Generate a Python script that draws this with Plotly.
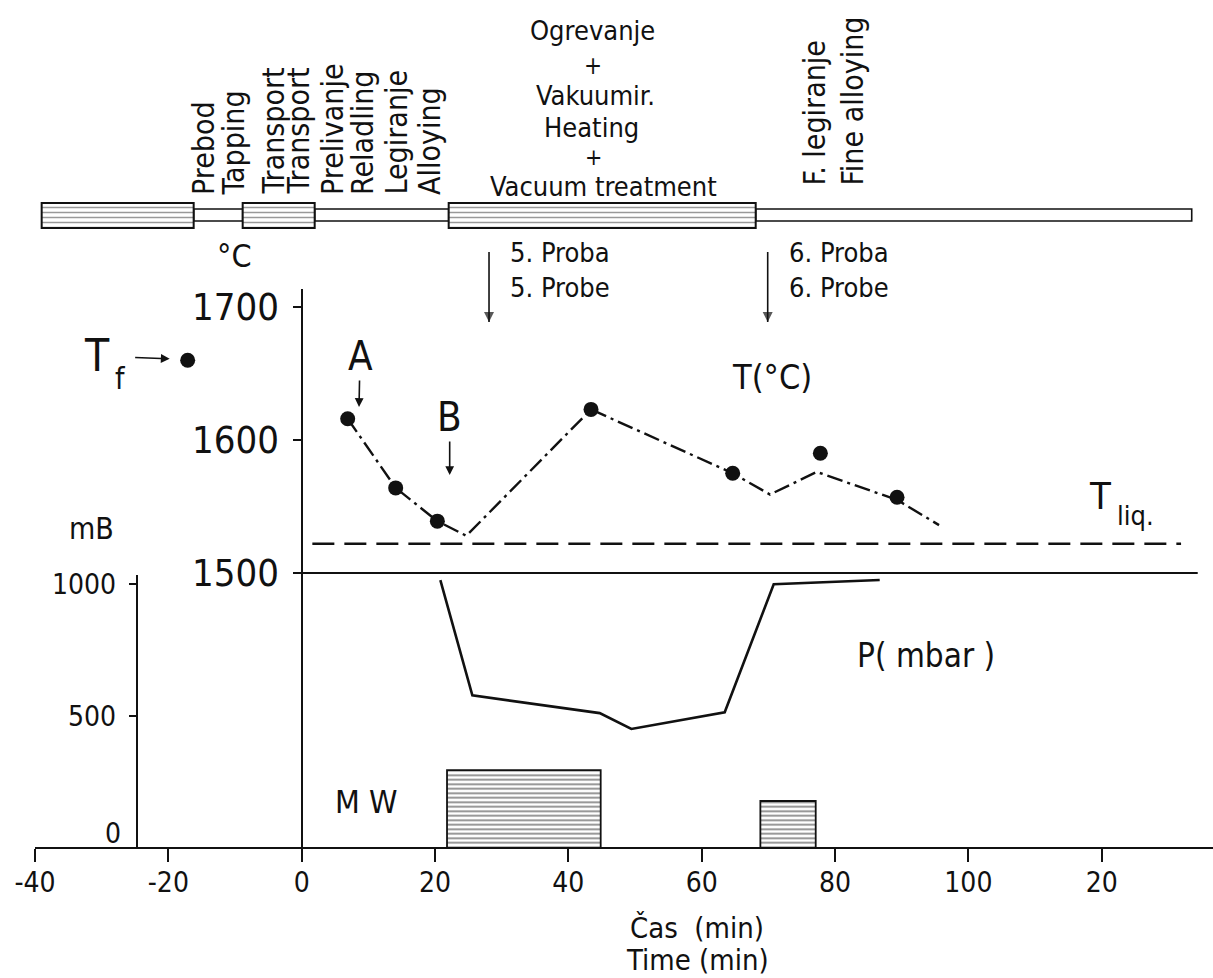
import plotly.graph_objects as go

# ---------------- data ----------------
# measured melt temperatures (time in min, temperature in °C)
sample_time = [6.9, 14.1, 20.35, 43.4, 64.65, 77.8, 89.3]
sample_temp = [1616, 1564, 1539, 1623, 1575, 1590, 1557]

# tapping temperature T_f
tf_time = [-17.1]
tf_temp = [1660]

# temperature trend line (dash-dot)
trend_time = [6.9, 14.1, 20.35, 24.7, 43.4, 64.65, 70.25, 77.25, 89.3, 95.6]
trend_temp = [1616, 1564, 1539, 1528, 1623, 1575, 1559, 1576, 1555, 1536]

# liquidus temperature
tliq_time = [1.6, 131.9]
tliq_temp = [1522, 1522]

# 1500 °C base line
base_time = [0, 134.4]
base_temp = [1500, 1500]

# vessel pressure (mbar)
pressure_time = [20.8, 25.6, 44.7, 49.45, 63.45, 70.8, 86.7]
pressure_mbar = [1015, 578, 511, 451, 514, 999, 1015]

# electric heating blocks (MW, drawn on the pressure scale)
mw_start = [21.8, 68.8]
mw_end = [44.85, 77.1]
mw_level = [295, 178]

# process route: phase boundaries and whether the phase is an active step
phase_edges = [-39.0, -16.2, -8.85, 1.95, 22.05, 68.1, 133.5]
phase_active = [True, False, True, False, True, False]

# sampling instants
probe_time = [28.1, 69.9]
probe_label = ["5. Proba<br>5. Probe", "6. Proba<br>6. Probe"]

x_tickvals = [-40, -20, 0, 20, 40, 60, 80, 100, 120]
x_ticktext = ["-40", "-20", "0", "20", "40", "60", "80", "100", "20"]
temp_ticks = [1500, 1600, 1700]
p_ticks = [500, 1000]

# ---------------- layout geometry ----------------
W, H = 1213, 978
FONT = "DejaVu Sans Condensed, Liberation Sans Narrow, DejaVu Sans, sans-serif"
INK = "#111111"


def fx(px):
    return px / W


def fy(py):
    return 1 - py / H


X_LEFT_PX = 35.0          # position of -40 min
PX_PER_MIN = 6.667
T_MAX = -40 + (W - X_LEFT_PX) / PX_PER_MIN
AXIS_Y_PX = 848.0

T_REF_PX, PX_PER_DEG = 573.0, 1.33
T_TOP_PX = 289.0
PROBE_TOP_PX = 240.0


def temp_at(py):
    return 1500 + (T_REF_PX - py) / PX_PER_DEG


t_lo = temp_at(AXIS_Y_PX)
t_hi = temp_at(T_TOP_PX)

PX_PER_MBAR = 0.264
P_TOP_PX = 575.0
p_hi = (AXIS_Y_PX - P_TOP_PX) / PX_PER_MBAR

ZERO_X = fx(X_LEFT_PX + 40 * PX_PER_MIN)
P_AXIS_X = fx(136.7)

fig = go.Figure()

# process route bar (top)
for i, active in enumerate(phase_active):
    if active:
        continue
    a, b = phase_edges[i], phase_edges[i + 1]
    fig.add_trace(go.Bar(
        orientation="h", y=[25], x=[b - a], base=[a], width=[12],
        marker=dict(color="white", line=dict(color=INK, width=1.6)),
        xaxis="x", yaxis="y3", showlegend=False, hoverinfo="skip"))
for i, active in enumerate(phase_active):
    if not active:
        continue
    a, b = phase_edges[i], phase_edges[i + 1]
    fig.add_trace(go.Bar(
        orientation="h", y=[24.5], x=[b - a], base=[a], width=[25],
        marker=dict(color="white", line=dict(color=INK, width=2),
                    pattern=dict(shape="-", fgcolor="#333333", bgcolor="white",
                                 size=5, solidity=0.3)),
        xaxis="x", yaxis="y3", showlegend=False, hoverinfo="skip"))

# MW heating blocks
fig.add_trace(go.Bar(
    x=[(a + b) / 2 for a, b in zip(mw_start, mw_end)],
    y=mw_level, base=0,
    width=[b - a for a, b in zip(mw_start, mw_end)],
    marker=dict(color="white", line=dict(color=INK, width=1.8),
                pattern=dict(shape="-", fgcolor=INK, bgcolor="white",
                             size=4.5, solidity=0.4)),
    xaxis="x", yaxis="y2", showlegend=False, hoverinfo="skip"))

# pressure
fig.add_trace(go.Scatter(
    x=pressure_time, y=pressure_mbar, mode="lines",
    line=dict(color=INK, width=2.6), xaxis="x", yaxis="y2",
    showlegend=False, hoverinfo="skip"))

# 1500 base line and liquidus
fig.add_trace(go.Scatter(
    x=base_time, y=base_temp, mode="lines",
    line=dict(color=INK, width=2), xaxis="x", yaxis="y",
    showlegend=False, hoverinfo="skip"))
fig.add_trace(go.Scatter(
    x=tliq_time, y=tliq_temp, mode="lines",
    line=dict(color=INK, width=2.6, dash="22px,10px"), xaxis="x", yaxis="y",
    showlegend=False, hoverinfo="skip"))

# temperature trend and samples
fig.add_trace(go.Scatter(
    x=trend_time, y=trend_temp, mode="lines",
    line=dict(color=INK, width=2.4, dash="16px,5px,3px,5px"),
    xaxis="x", yaxis="y", showlegend=False, hoverinfo="skip"))
fig.add_trace(go.Scatter(
    x=sample_time + tf_time, y=sample_temp + tf_temp, mode="markers",
    marker=dict(color=INK, size=15), xaxis="x", yaxis="y",
    cliponaxis=False, showlegend=False, hoverinfo="skip"))

# sampling arrows (on a taller copy of the temperature scale)
for t in probe_time:
    fig.add_trace(go.Scatter(
        x=[t, t], y=[temp_at(252), temp_at(322)], mode="lines+markers",
        line=dict(color=INK, width=1.6),
        marker=dict(symbol="arrow-down", size=[0, 10], color=INK,
                    line=dict(width=0)),
        xaxis="x", yaxis="y6", cliponaxis=False, showlegend=False,
        hoverinfo="skip"))

tick_font = dict(family=FONT, size=28, color=INK)

fig.update_layout(
    width=W, height=H, autosize=False,
    margin=dict(l=0, r=0, t=0, b=0, pad=0, autoexpand=False),
    paper_bgcolor="white", plot_bgcolor="rgba(0,0,0,0)",
    barmode="overlay", font=dict(family=FONT, color=INK),
    xaxis=dict(
        domain=[fx(X_LEFT_PX), 1], range=[-40, T_MAX],
        anchor="free", position=fy(AXIS_Y_PX), automargin=False,
        showline=True, linecolor=INK, linewidth=2,
        ticks="outside", ticklen=13, tickwidth=2, tickcolor=INK,
        tickvals=x_tickvals, ticktext=x_ticktext, tickfont=tick_font,
        ticklabelstandoff=-4, showgrid=False, zeroline=False),
    yaxis=dict(
        domain=[fy(AXIS_Y_PX), fy(T_TOP_PX)], range=[t_lo, t_hi],
        anchor="free", position=ZERO_X, automargin=False,
        showline=True, linecolor=INK, linewidth=2,
        ticks="outside", ticklen=8, tickwidth=2, tickcolor=INK,
        tickvals=temp_ticks, tickfont=dict(family=FONT, size=38, color=INK),
        ticklabelstandoff=6, showgrid=False, zeroline=False),
    yaxis4=dict(
        overlaying="y", range=[t_lo, t_hi], anchor="free", position=ZERO_X,
        automargin=False,
        showline=False, ticks="inside", ticklen=8, tickwidth=2, tickcolor=INK,
        tickvals=temp_ticks, showticklabels=False, showgrid=False,
        zeroline=False),
    yaxis6=dict(
        domain=[fy(AXIS_Y_PX), fy(PROBE_TOP_PX)],
        range=[t_lo, temp_at(PROBE_TOP_PX)], anchor="free", position=ZERO_X,
        automargin=False, visible=False),
    yaxis2=dict(
        domain=[fy(AXIS_Y_PX), fy(P_TOP_PX)], range=[0, p_hi],
        anchor="free", position=P_AXIS_X, automargin=False,
        showline=True, linecolor=INK, linewidth=2,
        ticks="outside", ticklen=7, tickwidth=2, tickcolor=INK,
        tickvals=p_ticks, tickfont=tick_font,
        ticklabelstandoff=7, showgrid=False, zeroline=False),
    yaxis5=dict(
        overlaying="y2", range=[0, p_hi], anchor="free", position=P_AXIS_X,
        automargin=False,
        showline=False, ticks="inside", ticklen=7, tickwidth=2, tickcolor=INK,
        tickvals=p_ticks, showticklabels=False, showgrid=False,
        zeroline=False),
    yaxis3=dict(
        domain=[fy(240), fy(190)], range=[0, 50], anchor="free", position=0,
        automargin=False, visible=False),
)

ann = []


def text(s, x, y, size, xa="center", ya="middle", angle=0):
    ann.append(dict(text=s, x=fx(x), y=fy(y), xref="paper", yref="paper",
                    showarrow=False, xanchor=xa, yanchor=ya, textangle=angle,
                    font=dict(family=FONT, size=size, color=INK)))


def arrow(x, y, ax, ay, label, size, startstandoff=0):
    ann.append(dict(text=label, x=x, y=y, xref="x", yref="y", ax=ax, ay=ay,
                    showarrow=True, arrowhead=2, arrowsize=1.1, arrowwidth=1.6,
                    arrowcolor=INK, startstandoff=startstandoff,
                    font=dict(family=FONT, size=size, color=INK)))


# process route labels (vertical)
route_labels = [
    ("Prebod", 203, 197), ("Tapping", 233, 197),
    ("Transport", 273, 197), ("Transport", 298, 197),
    ("Prelivanje", 332, 197), ("Reladling", 362, 197),
    ("Legiranje", 396, 197), ("Alloying", 429, 197),
    ("F. legiranje", 814, 188), ("Fine alloying", 852, 188),
]
for s, x, yb in route_labels:
    text(s, x, yb, 30, ya="bottom", angle=-90)

# heating / vacuum block
for s, x, y, sz in [("Ogrevanje", 592, 31, 27), ("+", 593, 66, 24),
                    ("Vakuumir.", 595, 96, 27), ("Heating", 591, 127, 27),
                    ("+", 593, 157, 23), ("Vacuum treatment", 603, 186, 27)]:
    text(s, x, y, sz)

# sampling labels
for t, lab in zip(probe_time, probe_label):
    px = X_LEFT_PX + (t + 40) * PX_PER_MIN
    text(lab, px + 19, 270, 27, xa="left")

text("°C", 234, 256, 32)
arrow(-19.8, 1661, -73, -3, "T", 44, startstandoff=24)
text("f", 120, 378, 30)
arrow(8.6, temp_at(407), 1, -51, "A", 40)
arrow(22.2, temp_at(475), 0, -58, "B", 40)
text("T(°C)", 772, 377, 34)
text("T", 1100, 496, 38)
text("liq.", 1115, 515, 27, xa="left")
text("mB", 91, 528, 30)
text("0", 113, 833, 28)
text("P( mbar )", 926, 655, 33)
text("M W", 366, 802, 32)
text("Čas  (min)", 697, 928, 29)
text("Time (min)", 697, 960, 29)

fig.update_layout(annotations=ann)

fig.write_html("out.html")
